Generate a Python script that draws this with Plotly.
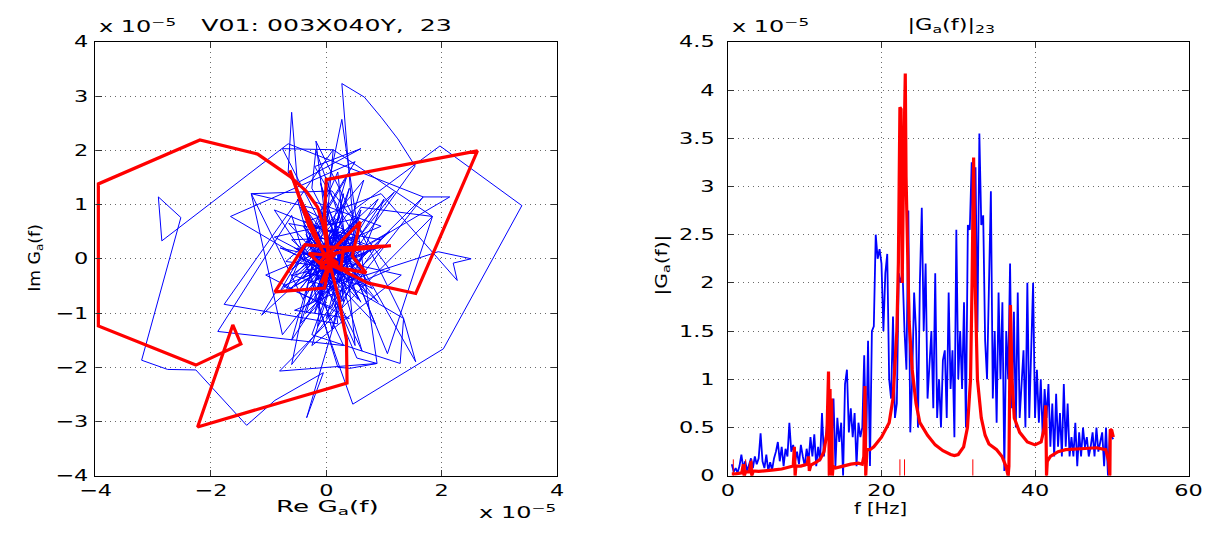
import plotly.graph_objects as go

# ---------------- data (units of 1e-5) ----------------
# Right panel: measured |G| (blue)
blue_f = [0.5, 0.75,
          1.0, 1.25, 1.5, 1.75, 2.0, 2.25, 2.5, 2.75, 3.0, 3.25, 3.5, 3.75,
          4.0, 4.25, 4.5, 4.75, 5.0, 5.25, 5.5, 5.75, 6.0, 6.25, 6.5, 6.75,
          7.0, 7.25, 7.5, 7.75, 8.0, 8.25, 8.5, 8.75, 9.0, 9.25, 9.5, 9.75,
          10.0, 10.25, 10.5, 10.75, 11.0, 11.25, 11.5, 11.75, 12.0, 12.25, 12.5, 12.75,
          13.0, 13.25, 13.5, 13.75, 14.0, 14.25, 14.5, 14.75, 15.0, 15.25, 15.5, 15.75,
          16.0, 16.25, 16.5, 16.75, 17.0, 17.25, 17.5, 17.75, 18.0, 18.25, 18.5, 18.75,
          19.0, 19.25, 19.5, 19.75, 20.0, 20.25, 20.5, 20.75, 21.0, 21.25, 21.5, 21.75,
          22.0, 22.25, 22.5, 22.75, 23.0, 23.25, 23.5, 23.75, 24.0, 24.25, 24.5, 24.75,
          25.0, 25.25, 25.5, 25.75, 26.0, 26.25, 26.5, 26.75, 27.0, 27.25, 27.5, 27.75,
          28.0, 28.25, 28.5, 28.75, 29.0, 29.25, 29.5, 29.75, 30.0, 30.25, 30.5, 30.75,
          31.0, 31.25, 31.5, 31.75, 32.0, 32.25, 32.5, 32.75, 33.0, 33.25, 33.5, 33.75,
          34.0, 34.25, 34.5, 34.75, 35.0, 35.25, 35.5, 35.75, 36.0, 36.25, 36.5, 36.75,
          37.0, 37.25, 37.5, 37.75, 38.0, 38.25, 38.5, 38.75, 39.0, 39.25, 39.5, 39.75,
          40.0, 40.25, 40.5, 40.75, 41.0, 41.25, 41.5, 41.75, 42.0, 42.25, 42.5, 42.75,
          43.0, 43.25, 43.5, 43.75, 44.0, 44.25, 44.5, 44.75, 45.0, 45.25, 45.5, 45.75,
          46.0, 46.25, 46.5, 46.75, 47.0, 47.25, 47.5, 47.75, 48.0, 48.25, 48.5, 48.75,
          49.0, 49.25, 49.5, 49.75, 50.0, 50.2]
blue_mag = [0.12, 0.04,
            0.08, 0.03, 0.10, 0.22, 0.08, 0.15, 0.05, 0.12, 0.18, 0.08, 0.20, 0.12,
            0.18, 0.44, 0.15, 0.08, 0.22, 0.05, 0.14, 0.06, 0.18, 0.25, 0.35, 0.15,
            0.30, 0.10, 0.28, 0.20, 0.55, 0.25, 0.32, 0.15, 0.25, 0.12, 0.32, 0.20,
            0.10, 0.28, 0.15, 0.40, 0.20, 0.43, 0.10, 0.30, 0.15, 0.65, 0.20, 0.40,
            0.60, 0.85, 0.30, 0.80, 0.10, 0.60, 0.35, 0.55, 0.00, 0.95, 1.10, 0.45,
            0.70, 0.40, 0.65, 0.10, 0.55, 0.40, 0.50, 1.25, 0.30, 1.40, 0.10, 1.50,
            1.55, 2.50, 2.25, 2.35, 2.20, 1.50, 2.10, 2.30, 1.00, 0.80, 1.65, 0.60,
            0.75, 2.10, 2.00, 2.10, 1.50, 1.10, 2.75, 0.45, 1.00, 1.90, 1.50, 0.50,
            2.00, 2.78, 1.50, 2.20, 0.80, 1.20, 1.50, 0.70, 2.10, 0.60, 1.00, 0.50,
            1.20, 1.30, 0.60, 1.90, 0.90, 1.30, 0.40, 2.55, 1.00, 1.50, 0.90, 1.80,
            0.50, 2.60, 2.55, 3.25, 2.00, 3.20, 1.50, 3.55, 2.60, 2.70, 1.40, 1.00,
            2.00, 2.95, 0.80, 1.50, 0.55, 1.90, 1.00, 1.80, 0.05, 1.50, 1.00, 2.20,
            0.70, 1.70, 0.50, 1.90, 0.60, 0.90, 1.30, 0.50, 2.00, 0.60, 1.30, 2.00,
            0.60, 1.10, 0.55, 1.00, 0.40, 0.90, 0.60, 0.95, 0.30, 0.75, 0.20, 0.85,
            0.30, 0.65, 0.20, 0.95, 0.30, 0.75, 0.20, 0.40, 0.20, 0.55, 0.10, 0.45,
            0.20, 0.50, 0.30, 0.40, 0.20, 0.30, 0.45, 0.20, 0.50, 0.25, 0.35, 0.45,
            0.10, 0.50, 0.00, 0.45, 0.40, 0.38]

# Right panel: model |G| (red)
red_f = [0.5, 1.0, 1.8, 2.0, 2.1, 2.3, 2.8, 3.0, 3.1, 3.3, 4.0, 5.0, 6.0, 7.0, 8.0,
         8.5, 8.65, 8.75, 8.85, 9.5, 10.3, 10.5, 10.6, 10.8, 11.5, 12.0, 12.5, 12.9,
         13.1, 13.2, 13.3, 13.4, 13.5, 13.6, 13.7, 14.0, 15.0, 16.0, 17.0, 17.5, 17.7,
         17.85, 17.95, 18.1, 18.5, 19.0, 20.0, 21.0, 21.5, 22.0, 22.2, 22.4, 22.55,
         22.7, 22.85, 23.0, 23.1, 23.2, 23.4, 23.6, 24.0, 24.5, 25.0, 26.0, 27.0, 28.0,
         29.0, 29.5, 30.0, 30.7, 31.2, 31.6, 31.8, 32.0, 32.2, 32.5, 33.0, 33.5, 34.0,
         35.0, 35.7, 36.2, 36.5, 36.6, 36.8, 37.0, 37.3, 38.0, 39.0, 40.0, 40.8, 41.2,
         41.4, 41.5, 41.6, 42.0, 43.0, 44.0, 46.0, 48.0, 49.2, 49.6, 49.75, 49.8, 50.0,
         50.2]
red_mag = [0.02, 0.02, 0.03, 0.12, 0.00, 0.04, 0.04, 0.15, 0.00, 0.05, 0.045, 0.05,
           0.06, 0.07, 0.085, 0.10, 0.30, 0.00, 0.10, 0.10, 0.12, 0.20, 0.05, 0.11,
           0.14, 0.17, 0.25, 0.45, 1.08, 0.00, 0.90, 0.00, 0.80, 0.00, 0.10, 0.08,
           0.10, 0.12, 0.13, 0.12, 0.20, 0.93, 0.00, 0.27, 0.27, 0.30, 0.40, 0.55,
           0.80, 1.50, 2.20, 3.82, 3.80, 2.00, 3.00, 4.17, 4.17, 3.10, 2.30, 1.60,
           1.10, 0.75, 0.55, 0.42, 0.32, 0.26, 0.22, 0.21, 0.22, 0.30, 0.50, 1.00,
           2.00, 3.30, 2.00, 1.00, 0.60, 0.42, 0.33, 0.27, 0.20, 0.10, 0.00, 0.10,
           1.77, 1.00, 0.60, 0.45, 0.35, 0.32, 0.35, 0.50, 0.73, 0.00, 0.15, 0.20,
           0.25, 0.27, 0.28, 0.29, 0.27, 0.15, 0.00, 0.48, 0.47, 0.40]

# identified natural frequencies (short red stems at the bottom)
stem_f = [0.7, 2.3, 3.1, 13.1, 17.9, 22.4, 23.0, 31.9, 36.6, 41.5, 49.8]
stem_h = 0.17

# Left panel: measured G in complex plane (blue)
blue_re = [0.05, -0.10, 0.12, -0.05, 0.20, -0.25, 0.08, 0.30, -0.35, 0.15, -0.10, 0.40,
           -0.42, 0.10, 0.35, -0.30, 0.50, -0.20, 0.25, -0.50, 0.45, -0.15, 0.20, -0.55,
           0.60, -0.05, 0.35, -0.60, 0.55, -0.35, 0.70, -0.70, 0.15, 0.30, -0.40, 0.85,
           -0.75, 0.10, 0.55, -0.90, 0.80, -0.20, 0.95, -1.05, 0.40, -0.55, 1.10, 0.10,
           -1.30, -0.76, 1.18, -1.12, 0.50, -1.66, 1.34, -0.18, 0.20, -1.77, 0.12, 1.84,
           -0.81, 0.88, 0.27, -0.60, 1.68, -0.66, -2.85, -2.91, -2.52, -3.20, -2.75, -2.26,
           -1.38, -0.89, -0.05, -0.34, 0.30, -0.60, 0.45, -0.20, 0.60, -0.50, -0.60, -0.66,
           0.25, -0.30, 0.50, 0.27, 0.66, 0.95, 1.24, 1.54, 0.20, -0.40, 0.70, -0.25,
           -0.18, 0.45, -0.55, 0.35, 1.97, 3.39, 2.03, 0.46, -0.20, 0.55, -0.45, 0.10,
           0.90, -0.80, 0.35, -0.35, 1.68, 2.14, 0.80, -0.15, 0.12, -0.76, 0.60, -0.30,
           0.95, 2.27, 2.20, 2.51, 1.94, 0.40, -0.50, 0.30, -1.88, -0.60, 0.20, 0.41,
           0.88, 0.53, 0.00, -0.35, 0.62, -0.10, -1.30, -0.40, 0.45, -0.25, 1.28, 1.34,
           1.55, 0.40, -0.20, 0.60, 1.84, 1.06, 0.25, -0.45, 0.50, -0.15, 0.30, -0.60,
           0.20, 0.70, -0.30, 0.15, 1.00, -0.40, 0.35, 0.05, -0.55, 0.45, 0.10, -0.20,
           0.60, -0.05, 0.25, -0.30, 0.40, 0.00, 0.15, -0.15, 0.30, 0.05,
           0.30, -0.20, 0.60, 0.10, -0.50, 0.90, -0.30, 0.50, 0.20, -0.70, 1.10, -0.10,
           0.40, -0.45, 0.75, -0.90, 0.25, 1.00, -0.60, 0.05, 0.85, -0.35, 0.65, -0.25,
           1.30, -0.80, 0.30, -0.10, 0.55, -0.65, 0.95, 0.00, 0.45, -0.40, 0.70, 0.10,
           -0.20, 0.35]
blue_im = [0.10, 0.05, -0.08, -0.15, 0.10, 0.12, 0.30, -0.15, -0.20, 0.40, -0.35, 0.15,
           0.25, -0.45, 0.35, -0.45, -0.10, 0.50, -0.40, 0.05, 0.30, -0.55, 0.55, -0.30,
           0.05, 0.60, -0.55, 0.35, 0.40, -0.60, -0.25, -0.05, 0.75, -0.80, 0.70, 0.20,
           -0.50, -0.90, 0.75, 0.40, -0.55, 1.05, 0.60, -0.30, -1.10, -0.95, -0.20, 1.25,
           1.20, -1.40, 1.23, -1.04, 1.79, 0.78, -1.10, 2.17, -1.20, -0.84, 2.01, 0.78,
           -2.07, -1.93, 2.57, -1.95, 1.14, 2.12, 0.33, 1.14, 0.76, -1.87, -2.04, -2.05,
           -3.07, -2.61, -2.10, -2.93, -0.60, -0.30, 0.50, 1.70, 2.03, 1.40, 2.70, 1.60,
           -0.40, -0.85, 0.20, 3.23, 2.98, 2.61, 2.21, 1.71, -0.30, 0.60, -0.65, 1.30,
           2.00, 0.10, -0.50, 0.80, 2.08, 0.98, -1.66, -2.68, -0.70, 0.40, 0.95, -0.30,
           1.10, -0.60, 1.50, -1.00, 1.14, 1.14, 0.30, -1.25, 2.01, 2.03, -0.80, 0.70,
           1.20, -0.40, -0.08, 0.00, 0.13, -0.40, 0.20, -1.60, -1.34, 0.80, -2.00, -2.02,
           -1.93, -1.83, -0.50, 0.45, -1.70, 0.90, 1.20, -0.75, 0.60, -1.40, -1.93, -1.10,
           -1.90, 0.25, -0.60, 0.95, 0.78, -1.75, 0.35, -0.55, 0.70, -0.80, 0.55, -0.20,
           0.75, -0.45, 0.40, -0.60, 0.25, -0.35, 0.45, -0.15, 0.20, -0.40, 0.55, -0.25,
           0.15, -0.45, 0.30, -0.10, 0.25, -0.20, 0.10, 0.05, -0.05, 0.02,
           1.20, -1.00, 0.90, -1.30, 1.10, -0.80, 0.40, -1.60, 1.60, -0.60, 0.50, -0.70,
           1.30, -1.20, 0.20, 0.90, -0.95, 1.10, -1.50, 0.90, -1.20, 0.15, 1.45, -1.60,
           -0.30, 0.20, -0.30, 1.40, -0.75, 0.65, 0.35, -1.10, 0.65, -0.25, -0.50, 0.45,
           -0.40, 0.05]

# Left panel: model G in complex plane (red)
red_re = [0.02, 0.08, -0.05, 0.10, -0.12, 0.05, 0.15, -0.30, 0.05, 0.02, 0.20, -0.10,
          0.05, 0.15, 0.35, 1.12, 0.23, -0.37, -0.89, -0.03, 0.05, 0.10, 0.59, 0.45,
          0.69, 0.15, 0.05, 0.12, 0.22, 0.29, 0.35, 0.36, -2.23, -1.62, -1.48, -2.26,
          -3.95, -3.95, -2.19, -1.19, -0.63, -0.35, -0.15, -0.05, 0.00, 0.02, 0.03,
          0.02, -0.03, 0.00, 2.62, 1.55, 0.73, 0.35, 0.15, 0.05, -0.05, -0.20, -0.45,
          -0.63, -0.45, -0.30, -0.10, 0.10, -0.09, 0.05, 0.25, 0.30]
red_im = [0.02, 0.06, 0.10, -0.05, -0.08, 0.15, 0.05, 0.10, -0.25, 0.05, -0.08, -0.18,
          0.05, 0.10, 0.15, 0.24, 0.20, 0.26, -0.61, -0.54, -0.10, 0.15, 0.68, 0.05,
          -0.26, -0.15, -0.05, -0.35, -0.75, -1.16, -1.49, -2.29, -3.10, -1.22, -1.57,
          -1.96, -1.24, 1.38, 2.19, 1.93, 1.52, 1.25, 0.95, 0.60, 0.35, 0.20, 0.12,
          0.30, 0.80, 1.46, 1.99, -0.64, -0.45, -0.25, -0.10, 0.00, 0.10, 0.50, 1.10,
          1.63, 1.05, 0.60, 0.20, -0.10, -0.45, -0.10, -0.20, 0.20]

# ---------------- figure ----------------
FONT = "DejaVu Sans, Verdana, sans-serif"
FS = 15
BLUE = "#0000ff"
RED = "#ff0000"
W, H = 1229, 533

fig = go.Figure()

fig.add_trace(go.Scatter(x=blue_re, y=blue_im, mode="lines",
                         line=dict(color=BLUE, width=1), xaxis="x", yaxis="y",
                         showlegend=False, hoverinfo="skip"))
fig.add_trace(go.Scatter(x=red_re, y=red_im, mode="lines",
                         line=dict(color=RED, width=3.2), xaxis="x", yaxis="y",
                         showlegend=False, hoverinfo="skip"))

fig.add_trace(go.Scatter(x=blue_f, y=blue_mag, mode="lines",
                         line=dict(color=BLUE, width=1.8), xaxis="x2", yaxis="y2",
                         showlegend=False, hoverinfo="skip"))
sx, sy = [], []
for f in stem_f:
    sx += [f, f, None]
    sy += [0, stem_h, None]
fig.add_trace(go.Scatter(x=sx, y=sy, mode="lines",
                         line=dict(color=RED, width=1), xaxis="x2", yaxis="y2",
                         showlegend=False, hoverinfo="skip"))
fig.add_trace(go.Scatter(x=red_f, y=red_mag, mode="lines",
                         line=dict(color=RED, width=3.2), xaxis="x2", yaxis="y2",
                         showlegend=False, hoverinfo="skip"))

axis_common = dict(showline=True, linecolor="black", linewidth=1.2, mirror="ticks",
                   ticks="inside", ticklen=6, tickcolor="#333", tickwidth=1,
                   showgrid=True, gridcolor="#6a6a6a", griddash="1px,4px", gridwidth=1,
                   zeroline=False, tickfont=dict(family=FONT, size=16, color="black"))

fig.update_layout(
    width=W, height=H,
    margin=dict(l=0, r=0, t=0, b=0),
    paper_bgcolor="white", plot_bgcolor="white",
    font=dict(family=FONT, size=FS, color="black"),
    xaxis=dict(domain=[85/W, 555/W], range=[-4, 4], tickvals=[-4, -2, 0, 2, 4],
               anchor="y", **axis_common),
    yaxis=dict(domain=[1-484/H, 1-34/H], range=[-4, 4],
               tickvals=[-4, -3, -2, -1, 0, 1, 2, 3, 4], anchor="x",
               ticklabelstandoff=3, **axis_common),
    xaxis2=dict(domain=[729/W, 1198/W], range=[0, 60], tickvals=[0, 20, 40, 60],
                anchor="y2", **axis_common),
    yaxis2=dict(domain=[1-484/H, 1-34/H], range=[0, 4.5],
                tickvals=[0, 0.5, 1, 1.5, 2, 2.5, 3, 3.5, 4, 4.5],
                ticktext=["0", "0.5", "1", "1.5", "2", "2.5", "3", "3.5", "4", "4.5"],
                anchor="x2", ticklabelstandoff=9, **axis_common),
)

# (text, x px, y px, xanchor, angle, horizontal stretch, stretch origin)
ann_spec = [
    ("x 10<sup>−5</sup>", 87, 18, "left", 0, 1.6, "left"),
    ("V01: 003X040Y,  23", 320, 18, "center", 0, 1.68, "center"),
    ("x 10<sup>−5</sup>", 556, 522, "right", 0, 1.6, "right"),
    ("Re G<sub>a</sub>(f)", 321, 517, "center", 0, 1.75, "center"),
    ("Im G<sub>a</sub>(f)", 24, 258, "center", -90, 1.15, "center"),
    ("x 10<sup>−5</sup>", 731, 18, "left", 0, 1.6, "left"),
    ("|G<sub>a</sub>(f)|<sub>23</sub>", 957, 17, "center", 0, 1.5, "center"),
    ("|G<sub>a</sub>(f)|", 662, 266, "center", -90, 1.35, "center"),
    ("f [Hz]", 884, 518, "center", 0, 1.3, "center"),
]
ann = []
for text, x, y, xa, ang, _, _ in ann_spec:
    ann.append(dict(text=text, x=x/W, y=1-y/H, xref="paper", yref="paper",
                    xanchor=xa, yanchor="middle", textangle=ang, showarrow=False,
                    font=dict(family=FONT, size=FS, color="black")))
fig.update_layout(annotations=ann)

stretch_js = "[" + ",".join("[%g,'%s']" % (s, o) for *_, s, o in ann_spec) + "]"
post = """
var gd = document.getElementById('{plot_id}');
var annS = %s;
var tickS = 1.4;
function st(t, s, mode){
  var cur = t.getAttribute('transform') || '';
  var base;
  if (t.getAttribute('data-app') !== null && cur === t.getAttribute('data-app')) {
    base = t.getAttribute('data-otr');
  } else {
    base = cur;
  }
  var b = t.getBBox();
  var px = mode === 'right' ? b.x + b.width : (mode === 'left' ? b.x : b.x + b.width / 2);
  var nt = base + ' translate(' + px + ',0) scale(' + s + ',1) translate(' + (-px) + ',0)';
  t.setAttribute('data-otr', base);
  t.setAttribute('transform', nt);
  t.setAttribute('data-app', t.getAttribute('transform'));
}
function run(){
  gd.querySelectorAll('g.annotation').forEach(function(g){
    var i = parseInt(g.getAttribute('data-index'));
    var t = g.querySelector('text.annotation-text');
    if (t && annS[i]) st(t, annS[i][0], annS[i][1]);
  });
  gd.querySelectorAll('.ytick text, .y2tick text').forEach(function(t){ st(t, tickS, 'right'); });
  gd.querySelectorAll('.xtick text, .x2tick text').forEach(function(t){ st(t, tickS, 'center'); });
}
run();
if (gd.on) { gd.on('plotly_afterplot', function(){ setTimeout(run, 0); }); }
setTimeout(run, 50);
setTimeout(run, 300);
""" % stretch_js

fig.write_html("out.html", post_script=post)
